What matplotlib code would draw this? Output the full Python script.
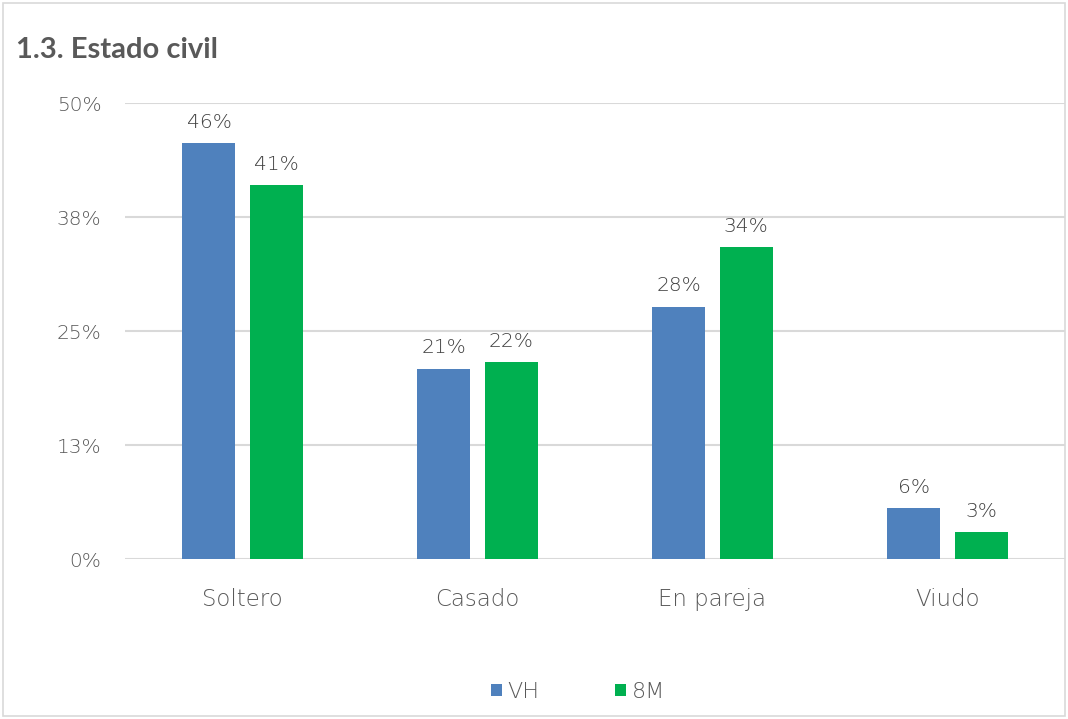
import matplotlib
matplotlib.use("Agg")
import matplotlib.pyplot as plt
import matplotlib.patches as mpatches
import numpy as np

categories = ["Soltero", "Casado", "En pareja", "Viudo"]
vh_values = [45.6, 20.9, 27.7, 5.6]
m8_values = [41.0, 21.6, 34.2, 3.0]
series_names = ["VH", "8M"]
y_ticks = [0, 12.5, 25, 37.5, 50]

COLORS = {"VH": "#4F81BD", "8M": "#00B050"}
TEXT_GRAY = "#595959"
LABEL_GRAY = "#404040"
GRID_GRAY = "#D9D9D9"

plt.rcParams["font.family"] = ["DejaVu Sans"]
plt.rcParams["font.weight"] = "light"


def pct(v):
    return f"{int(v + 0.5)}%"


fig = plt.figure(figsize=(10.68, 7.19), dpi=100)
ax = fig.add_axes([125 / 1068, 0.2221, 940 / 1068, 0.6342])

x = np.arange(len(categories))
width = 0.2255
offset = 0.1426

bars_vh = ax.bar(x - offset, vh_values, width, color=COLORS["VH"], label="VH", zorder=3)
bars_8m = ax.bar(x + offset, m8_values, width, color=COLORS["8M"], label="8M", zorder=3)

for bars, values in [(bars_vh, vh_values), (bars_8m, m8_values)]:
    for bar, value in zip(bars, values):
        ax.annotate(
            pct(value),
            (bar.get_x() + bar.get_width() / 2, bar.get_height()),
            xytext=(0, 11),
            textcoords="offset points",
            ha="center",
            va="baseline",
            fontsize=14.5,
            color=LABEL_GRAY,
        )

ax.set_xlim(-0.5, len(categories) - 0.5)
ax.set_ylim(0, 50)
ax.set_yticks(y_ticks)
ax.set_yticklabels([pct(t) for t in y_ticks])
ax.set_xticks(x)
ax.set_xticklabels(categories)
ax.tick_params(axis="y", length=0, pad=17, labelsize=14.5, labelcolor=TEXT_GRAY)
ax.tick_params(axis="x", length=0, pad=21, labelsize=16.5, labelcolor=TEXT_GRAY)
ax.grid(True, axis="y", color=GRID_GRAY, linewidth=1.5, zorder=0)
for spine in ax.spines.values():
    spine.set_visible(False)

fig.text(16 / 1068, 1 - 50 / 719, "1.3. Estado civil", fontsize=21, fontweight="bold",
         family=["Lato", "DejaVu Sans"], color=TEXT_GRAY, va="center", ha="left")

fig.legend(
    handles=[bars_vh, bars_8m],
    labels=series_names,
    loc="center",
    bbox_to_anchor=(0.541, 1 - 692 / 719),
    ncol=2,
    frameon=False,
    fontsize=16,
    labelcolor=TEXT_GRAY,
    handlelength=0.5,
    handleheight=0.5,
    handletextpad=0.25,
    columnspacing=3.4,
)

fig.add_artist(mpatches.Rectangle(
    (3 / 1068, 3 / 719), 1062 / 1068, 713 / 719,
    transform=fig.transFigure, fill=False, edgecolor=GRID_GRAY, linewidth=1.2,
))

fig.savefig("out.png", dpi=100)
